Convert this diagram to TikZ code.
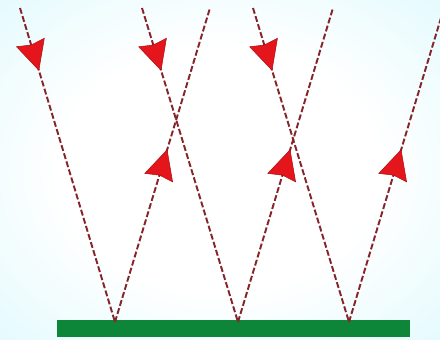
\documentclass[tikz,border=0pt]{standalone}
\usetikzlibrary{arrows.meta,decorations.markings}
\definecolor{raybrown}{RGB}{135,35,42}
\definecolor{tipred}{RGB}{228,22,28}
\definecolor{mirrorgreen}{RGB}{14,134,58}
\definecolor{bgcyan}{RGB}{208,247,252}
\pgfdeclareradialshading{softglow}{\pgfpoint{0bp}{0bp}}{color(0bp)=(white); color(18bp)=(white); color(50bp)=(bgcyan); color(75bp)=(bgcyan)}
\begin{document}
\begin{tikzpicture}[x=0.02cm,y=-0.02cm,
 ray/.style={draw=raybrown,line width=1.1pt,dash pattern=on 3.4pt off 1.4pt},
 tipat/.style={postaction={decorate},decoration={markings,mark=at position #1 with {\arrow{Stealth[length=17pt,width=17pt,inset=1.5pt,fill=tipred,color=tipred!75!black,line width=0.3pt]}}}}]
\shade[shading=softglow] (0,0) rectangle (440,339);
\useasboundingbox (0,0) rectangle (440,339);
\clip (0,0) rectangle (440,339);
% mirror
\fill[mirrorgreen] (57,320) rectangle (410,337);
% start points, hit points, end points
\coordinate (s1) at (20,8);   \coordinate (h1) at (115,322); \coordinate (e1) at (210,8);
\coordinate (s2) at (142,8);  \coordinate (h2) at (238,322); \coordinate (e2) at (333,8);
\coordinate (s3) at (253,8);  \coordinate (h3) at (349,322); \coordinate (e3) at (444,8);
\draw[ray,tipat=0.2] (s1) -- (h1);
\draw[ray,tipat=0.2] (s2) -- (h2);
\draw[ray,tipat=0.2] (s3) -- (h3);
\draw[ray,tipat=0.55] (h1) -- (e1);
\draw[ray,tipat=0.55] (h2) -- (e2);
\draw[ray,tipat=0.55] (h3) -- (e3);
\end{tikzpicture}
\end{document}
